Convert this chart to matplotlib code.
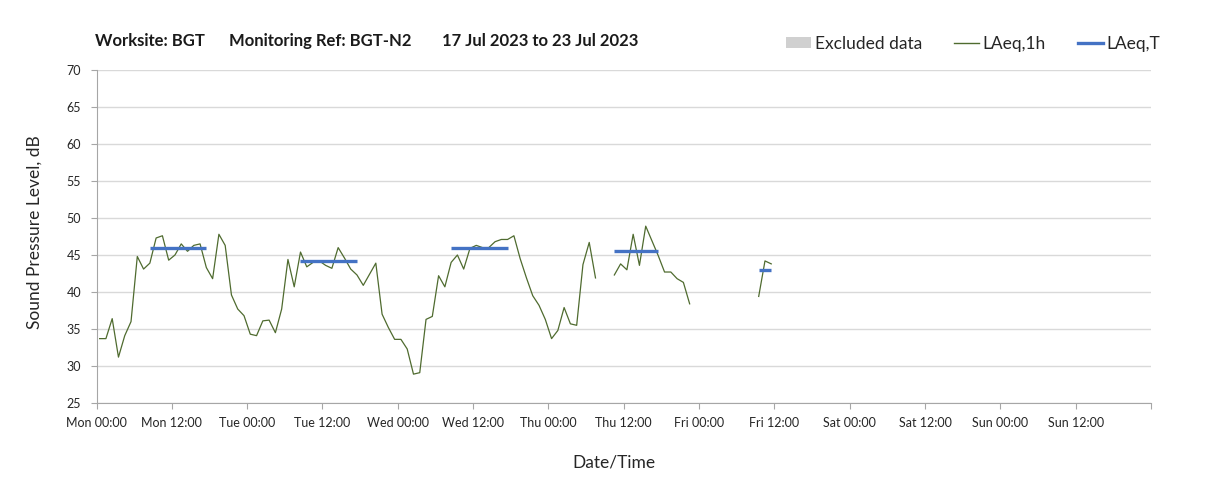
import numpy as np
import pandas as pd
import matplotlib
matplotlib.use("Agg")
import matplotlib.pyplot as plt
import matplotlib.dates as mdates
from matplotlib.patches import Patch
from matplotlib.lines import Line2D

nan = np.nan

# hourly LAeq,1h values, one list per day (Mon 17 Jul 2023 onwards)
mon = [33.7, 33.7, 36.4, 31.2, 34.1, 36.0, 44.8, 43.1, 43.9, 47.3, 47.6, 44.3,
       45.0, 46.5, 45.5, 46.3, 46.5, 43.3, 41.8, 47.8, 46.3, 39.6, 37.7, 36.8]
tue = [34.3, 34.1, 36.1, 36.2, 34.5, 37.7, 44.4, 40.7, 45.4, 43.4, 44.0, 44.2,
       43.6, 43.2, 46.0, 44.6, 43.1, 42.3, 40.9, 42.4, 43.9, 37.0, 35.2, 33.6]
wed = [33.6, 32.3, 28.9, 29.1, 36.3, 36.7, 42.2, 40.7, 44.0, 45.0, 43.1, 45.9,
       46.3, 46.0, 46.0, 46.8, 47.1, 47.1, 47.6, 44.5, 41.9, 39.5, 38.2, 36.3]
thu = [33.7, 34.8, 37.9, 35.7, 35.5, 43.7, 46.7, 41.9, nan, nan, 42.3, 43.8,
       43.0, 47.8, 43.6, 48.9, 46.9, 44.9, 42.7, 42.7, 41.8, 41.3, 38.4, nan]
fri = [nan, nan, nan, nan, nan, nan, nan, nan, nan, 39.4, 44.2, 43.8]

# daytime LAeq,T per day (08:00-18:00)
laeq_t_days = [45.9, 44.2, 46.0, 45.5, 43.0]
day_start, day_end = 8, 18

laeq_1h = np.array(mon + tue + wed + thu + fri)
start = pd.Timestamp("2023-07-17 00:00")
hour_start = pd.date_range(start, periods=len(laeq_1h), freq="h")
times = hour_start + pd.Timedelta(minutes=30)

laeq_t = np.full(len(laeq_1h), nan)
for i, t in enumerate(hour_start):
    if day_start <= t.hour < day_end and not np.isnan(laeq_1h[i]):
        laeq_t[i] = laeq_t_days[(t - start).days]

green = "#4f6b2f"
blue = "#4472c4"
grid_c = "#d9d9d9"
txt_c = "#262626"

plt.rcParams["font.family"] = ["Lato", "DejaVu Sans"]

fig = plt.figure(figsize=(12.08, 4.96), dpi=100)
ax = fig.add_axes([96.5 / 1208, 1 - 403 / 496, (1151 - 96.5) / 1208, 333 / 496])

ax.plot(times, laeq_1h, color=green, lw=0.9)
ax.plot(times, laeq_t, color=blue, lw=2.4, solid_capstyle="butt")

x0 = start
x1 = start + pd.Timedelta(days=7)
ax.set_xlim(x0, x1)
ax.set_ylim(25, 70)
ax.set_yticks(np.arange(25, 71, 5))

ax.xaxis.set_major_locator(mdates.HourLocator(byhour=[0, 12]))
end_num = mdates.date2num(x1)


def fmt(x, pos):
    if abs(x - end_num) < 1e-6:
        return ""
    return mdates.num2date(x).strftime("%a %H:%M")


ax.xaxis.set_major_formatter(plt.FuncFormatter(fmt))
ax.xaxis.set_minor_locator(mdates.HourLocator(byhour=[0]))

ax.grid(axis="y", color=grid_c, lw=1)
ax.grid(axis="x", which="minor", color=grid_c, lw=1)
ax.set_axisbelow(True)

for s in ["top", "right"]:
    ax.spines[s].set_visible(False)
for s in ["left", "bottom"]:
    ax.spines[s].set_color("#a6a6a6")
ax.tick_params(axis="both", which="major", length=4, color="#a6a6a6",
               labelsize=9, labelcolor=txt_c)
ax.tick_params(axis="x", which="major", pad=6)
ax.tick_params(axis="y", which="major", pad=7)
ax.tick_params(axis="x", which="minor", length=0)

title_y = 1 - 41 / 496
title_kw = dict(fontsize=12, fontweight="bold", va="center", ha="left",
                color="#1a1a1a")
fig.text(95 / 1208, title_y, "Worksite: BGT", **title_kw)
fig.text(229 / 1208, title_y, "Monitoring Ref: BGT-N2", **title_kw)
fig.text(442 / 1208, title_y, "17 Jul 2023 to 23 Jul 2023", **title_kw)

handles = [Patch(facecolor="#d0d0d0", edgecolor="none"),
           Line2D([], [], color=green, lw=1),
           Line2D([], [], color=blue, lw=2.4)]
fig.legend(handles, ["Excluded data", "LAeq,1h", "LAeq,T"], loc="center right",
           bbox_to_anchor=(1176 / 1208, 1 - 44 / 496), ncol=3, frameon=False,
           fontsize=12.5, handlelength=1.45, handleheight=0.6, handletextpad=0.2,
           columnspacing=1.85, labelcolor=txt_c)

fig.text(35 / 1208, 1 - 232 / 496, "Sound Pressure Level, dB", rotation=90,
         fontsize=12.5, va="center", ha="center", color=txt_c)
fig.text(614 / 1208, 1 - 462 / 496, "Date/Time", fontsize=12.5, va="center",
         ha="center", color=txt_c)

fig.savefig("out.png", dpi=100)
